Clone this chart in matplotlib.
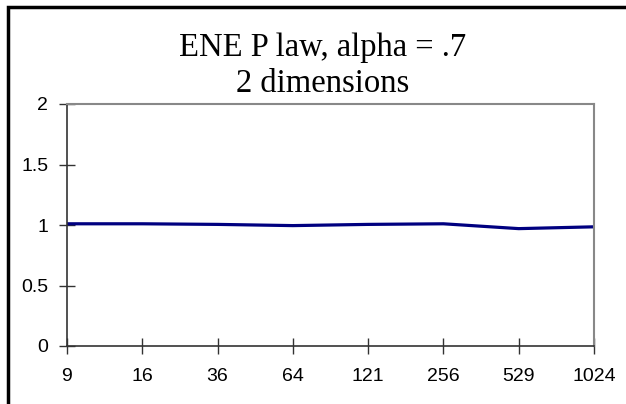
import matplotlib
matplotlib.use("Agg")
import matplotlib.pyplot as plt
from matplotlib.patches import Rectangle

plt.rcParams["font.family"] = ["Liberation Sans", "DejaVu Sans"]

categories = ["9", "16", "36", "64", "121", "256", "529", "1024"]
values = [1.01, 1.01, 1.005, 0.995, 1.005, 1.01, 0.97, 0.985]
y_ticks = [0, 0.5, 1, 1.5, 2]
y_labels = ["0", "0.5", "1", "1.5", "2"]

W, H = 626, 404
fig = plt.figure(figsize=(W / 100, H / 100), dpi=100)
ax = fig.add_axes([67 / W, 1 - 346 / H, (594 - 67) / W, (346 - 104) / H])

x = list(range(len(categories)))
ax.plot(x, values, color="#000080", linewidth=2.3, solid_joinstyle="round")

ax.set_xlim(0, len(categories) - 1)
ax.set_ylim(0, 2)
ax.set_xticks(x)
ax.set_xticklabels(categories)
ax.set_yticks(y_ticks)
ax.set_yticklabels(y_labels)
ax.tick_params(axis="both", direction="inout", length=11, width=1, color="#333333",
               labelsize=14, labelcolor="black")
ax.tick_params(axis="x", pad=10)
ax.tick_params(axis="y", pad=8)

for s in ("left", "bottom"):
    ax.spines[s].set_color("#333333")
    ax.spines[s].set_linewidth(1.2)
for s in ("top", "right"):
    ax.spines[s].set_color("#888888")
    ax.spines[s].set_linewidth(1.5)

fig.text(323 / W, 1 - 56 / H, "ENE P law, alpha = .7", ha="center", va="baseline",
         fontsize=23.5, family=["Liberation Serif", "DejaVu Serif"])
fig.text(323 / W, 1 - 92 / H, "2 dimensions", ha="center", va="baseline",
         fontsize=23.5, family=["Liberation Serif", "DejaVu Serif"])

# outer chart border (only left and top edges visible)
fig.patches.append(Rectangle((8 / W, -0.1), 1.2, 1.1 - 7 / H, transform=fig.transFigure,
                             fill=False, edgecolor="black", linewidth=2.5))

fig.savefig("out.png", dpi=100)
